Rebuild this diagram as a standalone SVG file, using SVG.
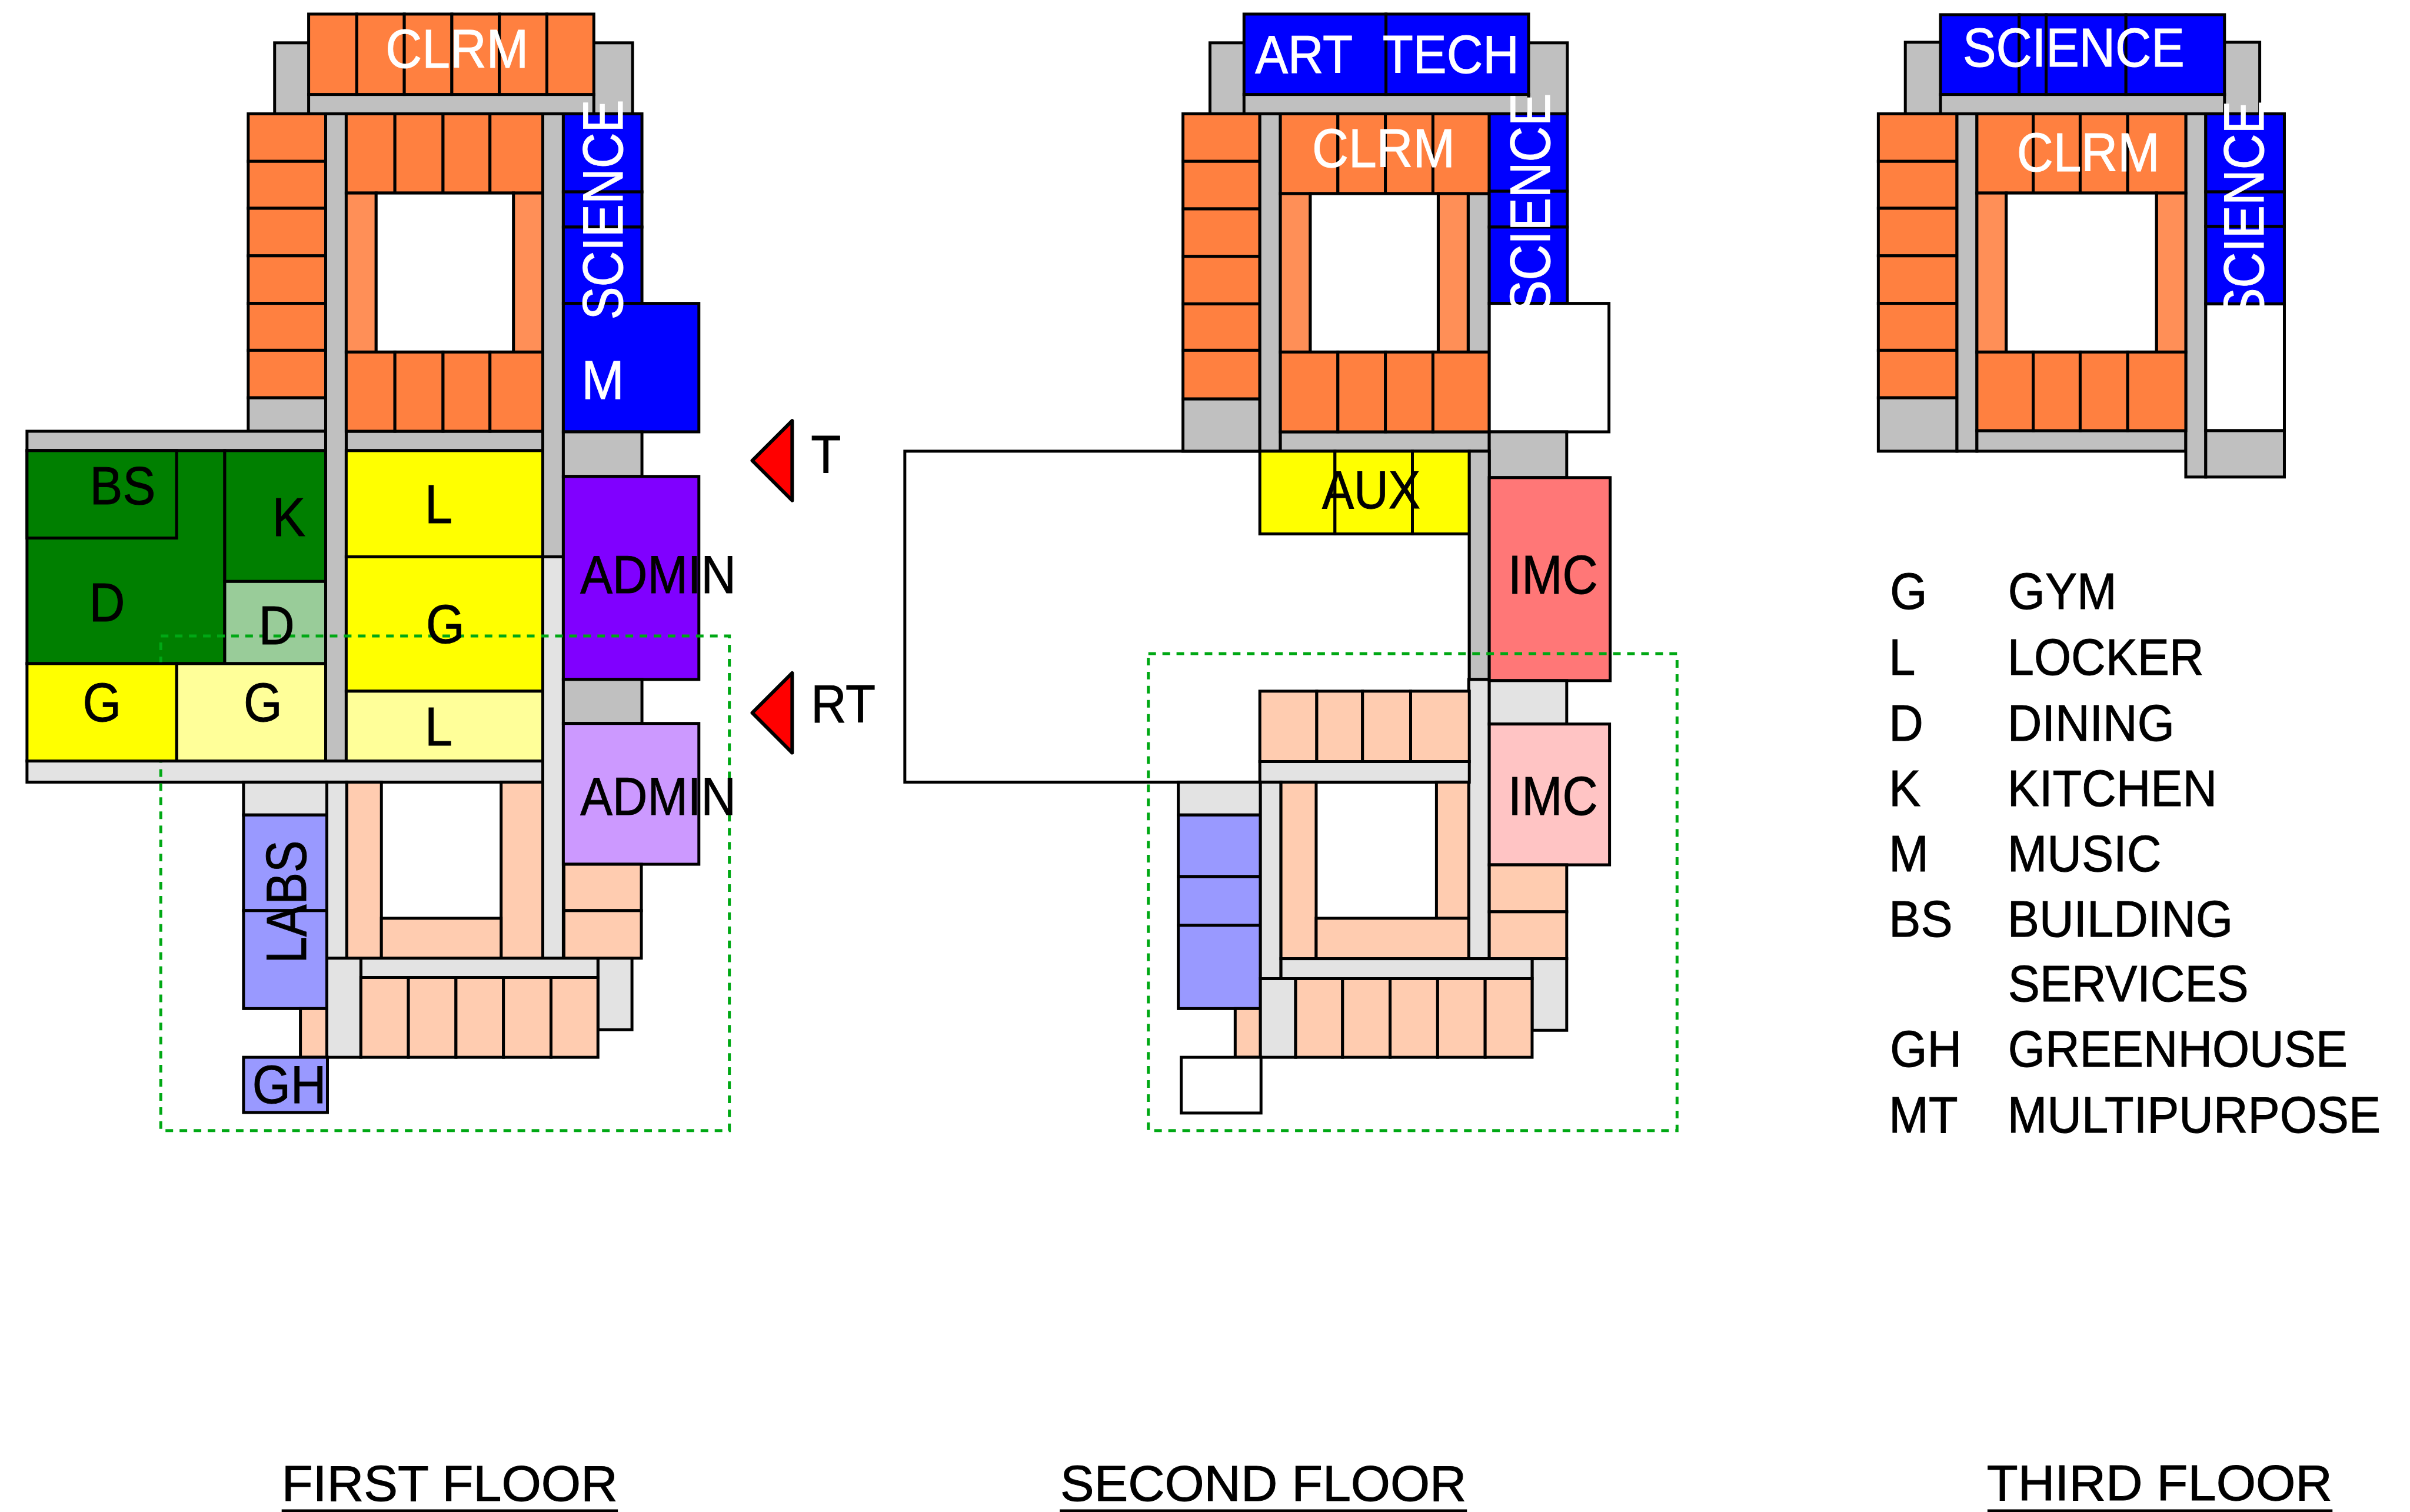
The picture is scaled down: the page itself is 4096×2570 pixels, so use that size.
<svg xmlns="http://www.w3.org/2000/svg" width="4096" height="2570" viewBox="0 0 4096 2570">
<style>
rect,polygon{stroke:#000;stroke-width:5;stroke-linejoin:miter}
.o{fill:#ff8040}.o2{fill:#ff8f57}.g{fill:#c0c0c0}.l{fill:#e3e3e3}.p{fill:#ffccb0}.w{fill:#fff}
.dg{fill:#007f00}.lg{fill:#99cc99}.y{fill:#ff0}.py{fill:#ff9}.b{fill:#00f}.v{fill:#8000ff}.pv{fill:#c9f}.i{fill:#ff7777}.pi{fill:#ffc4c4}.lab{fill:#99f}
.d{fill:none;stroke:#00a814;stroke-width:5;stroke-dasharray:13 11}
.u{stroke:#000;stroke-width:5}
.r{fill:#f00;stroke-width:6;stroke-linejoin:round}
text{font-family:"Liberation Sans",Arial,sans-serif;font-size:92px;fill:#000;stroke:#000;stroke-width:1}
.t{fill:#fff;stroke:#fff}.rot{font-size:97px}.leg{font-size:88px}.cap{font-size:86px}
</style>
<g transform="scale(0.9973)">
<g id="first-floor">
<rect class="g" x="468" y="73" width="60" height="121"/><rect class="g" x="1010" y="73" width="68" height="121"/>
<rect class="g" x="526" y="161" width="486" height="33"/>
<rect class="o" x="526" y="24" width="82" height="137"/><rect class="o" x="608" y="24" width="81" height="137"/><rect class="o" x="689" y="24" width="81" height="137"/><rect class="o" x="770" y="24" width="81" height="137"/><rect class="o" x="851" y="24" width="81" height="137"/><rect class="o" x="932" y="24" width="80" height="137"/>
<rect class="o" x="423" y="194" width="132" height="81"/><rect class="o" x="423" y="275" width="132" height="80"/><rect class="o" x="423" y="355" width="132" height="81"/><rect class="o" x="423" y="436" width="132" height="81"/><rect class="o" x="423" y="517" width="132" height="80"/><rect class="o" x="423" y="597" width="132" height="81"/>
<rect class="g" x="423" y="678" width="132" height="57"/>
<rect class="g" x="46" y="735" width="509" height="33"/><rect class="g" x="590" y="735" width="335" height="33"/>
<rect class="g" x="555" y="194" width="35" height="1103"/>
<rect class="g" x="925" y="194" width="35" height="755"/>
<rect class="l" x="925" y="949" width="35" height="684"/>
<rect class="o" x="590" y="194" width="83" height="135"/><rect class="o" x="673" y="194" width="82" height="135"/><rect class="o" x="755" y="194" width="80" height="135"/><rect class="o" x="835" y="194" width="90" height="135"/>
<rect class="o2" x="590" y="329" width="51" height="271"/><rect class="o2" x="875" y="329" width="50" height="271"/>
<rect class="w" x="641" y="329" width="234" height="271"/>
<rect class="o" x="590" y="600" width="83" height="135"/><rect class="o" x="673" y="600" width="82" height="135"/><rect class="o" x="755" y="600" width="80" height="135"/><rect class="o" x="835" y="600" width="90" height="135"/>
<rect class="b" x="960" y="194" width="134" height="133"/><rect class="b" x="960" y="327" width="134" height="60"/><rect class="b" x="960" y="387" width="134" height="130"/>
<rect class="b" x="960" y="517" width="231" height="219"/>
<rect class="g" x="960" y="736" width="134" height="76"/>
<rect class="v" x="960" y="812" width="231" height="346"/>
<rect class="g" x="960" y="1158" width="134" height="75"/>
<rect class="pv" x="960" y="1233" width="231" height="240"/>
<rect class="dg" x="46" y="768" width="337" height="363"/><rect class="dg" x="46" y="768" width="255" height="149"/>
<rect class="dg" x="383" y="768" width="172" height="223"/><rect class="lg" x="383" y="991" width="172" height="140"/>
<rect class="py" x="301" y="1131" width="254" height="166"/>
<rect class="y" x="590" y="768" width="335" height="181"/><rect class="y" x="590" y="949" width="335" height="229"/><rect class="py" x="590" y="1178" width="335" height="119"/>
<rect class="l" x="46" y="1297" width="879" height="36"/>
<rect class="l" x="415" y="1333" width="142" height="56"/>
<rect class="lab" x="415" y="1389" width="142" height="163"/><rect class="lab" x="415" y="1552" width="142" height="167"/>
<rect class="l" x="557" y="1333" width="34" height="300"/>
<rect class="p" x="591" y="1333" width="59" height="300"/><rect class="p" x="854" y="1333" width="71" height="300"/>
<rect class="p" x="650" y="1565" width="204" height="68"/>
<rect class="p" x="961" y="1473" width="132" height="79"/><rect class="p" x="961" y="1552" width="132" height="81"/>
<rect class="l" x="1019" y="1633" width="58" height="122"/>
<rect class="l" x="615" y="1633" width="404" height="33"/>
<rect class="p" x="512" y="1719" width="45" height="83"/>
<rect class="l" x="557" y="1633" width="58" height="169"/>
<rect class="p" x="615" y="1666" width="81" height="136"/><rect class="p" x="696" y="1666" width="81" height="136"/><rect class="p" x="777" y="1666" width="81" height="136"/><rect class="p" x="858" y="1666" width="81" height="136"/><rect class="p" x="939" y="1666" width="80" height="136"/>
<rect class="lab" x="415" y="1802" width="143" height="94"/>
<rect class="d" x="274" y="1084" width="969" height="843"/>
<rect class="y" x="46" y="1131" width="255" height="166"/>
<text class="t" transform="translate(657,115) scale(.935,1)">CLRM</text>
<text class="t rot" transform="translate(1061,545) rotate(-90) scale(.87,1)">SCIENCE</text>
<text class="t" transform="translate(991,680) scale(.95,1)">M</text>
<text transform="translate(153,859) scale(.913,1)">BS</text>
<text transform="translate(464,913) scale(.92,1)">K</text>
<text transform="translate(152,1059) scale(.92,1)">D</text>
<text transform="translate(441,1098) scale(.92,1)">D</text>
<text transform="translate(724,891) scale(.92,1)">L</text>
<text transform="translate(726,1096) scale(.92,1)">G</text>
<text transform="translate(141,1229) scale(.92,1)">G</text>
<text transform="translate(415,1229) scale(.92,1)">G</text>
<text transform="translate(724,1270) scale(.92,1)">L</text>
<text transform="translate(989,1011) scale(.895,1)">ADMIN</text>
<text transform="translate(989,1389) scale(.895,1)">ADMIN</text>
<text class="rot" transform="translate(521,1642) rotate(-90) scale(.845,1)">LABS</text>
<text transform="translate(430,1880) scale(.913,1)">GH</text>
</g>
<g id="section-markers">
<polygon class="r" points="1282,785 1350,717 1350,853"/>
<polygon class="r" points="1282,1215 1350,1147 1350,1283"/>
<text transform="translate(1382,806) scale(.91,1)">T</text>
<text transform="translate(1382,1231) scale(.91,1)">RT</text>
</g>
<g id="second-floor">
<rect class="w" x="1542" y="769" width="962" height="564"/>
<rect class="g" x="2062" y="73" width="60" height="121"/><rect class="g" x="2603" y="73" width="68" height="121"/>
<rect class="g" x="2120" y="161" width="485" height="33"/>
<rect class="b" x="2120" y="24" width="242" height="137"/><rect class="b" x="2362" y="24" width="243" height="137"/>
<rect class="o" x="2016" y="194" width="131" height="81"/><rect class="o" x="2016" y="275" width="131" height="81"/><rect class="o" x="2016" y="356" width="131" height="81"/><rect class="o" x="2016" y="437" width="131" height="81"/><rect class="o" x="2016" y="518" width="131" height="79"/><rect class="o" x="2016" y="597" width="131" height="83"/>
<rect class="g" x="2016" y="680" width="131" height="89"/>
<rect class="g" x="2147" y="194" width="35" height="575"/>
<rect class="g" x="2182" y="736" width="356" height="33"/>
<rect class="g" x="2502" y="330" width="36" height="270"/>
<rect class="o" x="2182" y="194" width="98" height="136"/><rect class="o" x="2280" y="194" width="81" height="136"/><rect class="o" x="2361" y="194" width="81" height="136"/><rect class="o" x="2442" y="194" width="96" height="136"/>
<rect class="o2" x="2182" y="330" width="51" height="270"/><rect class="o2" x="2451" y="330" width="51" height="270"/>
<rect class="w" x="2233" y="330" width="218" height="270"/>
<rect class="o" x="2182" y="600" width="98" height="136"/><rect class="o" x="2280" y="600" width="81" height="136"/><rect class="o" x="2361" y="600" width="81" height="136"/><rect class="o" x="2442" y="600" width="96" height="136"/>
<rect class="b" x="2538" y="194" width="133" height="132"/><rect class="b" x="2538" y="326" width="133" height="61"/><rect class="b" x="2538" y="387" width="133" height="130"/>
<rect class="w" x="2538" y="517" width="204" height="219"/>
<rect class="g" x="2538" y="736" width="132" height="78"/>
<rect class="y" x="2147" y="769" width="128" height="141"/><rect class="y" x="2275" y="769" width="132" height="141"/><rect class="y" x="2407" y="769" width="97" height="141"/>
<rect class="g" x="2504" y="769" width="34" height="389"/>
<rect class="l" x="2503" y="1158" width="35" height="476"/>
<rect class="i" x="2538" y="814" width="206" height="346"/>
<rect class="l" x="2538" y="1160" width="132" height="74"/>
<rect class="pi" x="2538" y="1234" width="205" height="240"/>
<rect class="p" x="2147" y="1178" width="97" height="120"/><rect class="p" x="2244" y="1178" width="78" height="120"/><rect class="p" x="2322" y="1178" width="82" height="120"/><rect class="p" x="2404" y="1178" width="100" height="120"/>
<rect class="l" x="2147" y="1298" width="357" height="35"/>
<rect class="l" x="2008" y="1333" width="140" height="56"/>
<rect class="lab" x="2008" y="1389" width="140" height="105"/><rect class="lab" x="2008" y="1494" width="140" height="83"/><rect class="lab" x="2008" y="1577" width="140" height="142"/>
<rect class="l" x="2148" y="1333" width="35" height="335"/>
<rect class="p" x="2183" y="1333" width="60" height="301"/>
<rect class="p" x="2448" y="1333" width="55" height="232"/>
<rect class="p" x="2243" y="1565" width="260" height="69"/>
<rect class="p" x="2538" y="1474" width="132" height="80"/><rect class="p" x="2538" y="1554" width="132" height="80"/>
<rect class="l" x="2611" y="1634" width="59" height="122"/>
<rect class="l" x="2183" y="1634" width="428" height="34"/>
<rect class="p" x="2105" y="1719" width="43" height="83"/>
<rect class="l" x="2148" y="1668" width="60" height="134"/>
<rect class="p" x="2208" y="1668" width="80" height="134"/><rect class="p" x="2288" y="1668" width="81" height="134"/><rect class="p" x="2369" y="1668" width="81" height="134"/><rect class="p" x="2450" y="1668" width="81" height="134"/><rect class="p" x="2531" y="1668" width="80" height="134"/>
<rect class="w" x="2013" y="1802" width="136" height="95"/>
<rect class="d" x="1957" y="1114" width="901" height="813"/>
<text class="t" transform="translate(2139,124) scale(.913,1)">ART</text>
<text class="t" transform="translate(2356,124) scale(.93,1)">TECH</text>
<text class="t" transform="translate(2236,285) scale(.935,1)">CLRM</text>
<text class="t rot" transform="translate(2641,534) rotate(-90) scale(.87,1)">SCIENCE</text>
<text transform="translate(2253,866) scale(.886,1)">AUX</text>
<text transform="translate(2570,1012) scale(.907,1)">IMC</text>
<text transform="translate(2570,1389) scale(.907,1)">IMC</text>
</g>
<g id="third-floor">
<rect class="g" x="3247" y="72" width="62" height="122"/><rect class="g" x="3789" y="72" width="62" height="122"/>
<rect class="g" x="3307" y="161" width="484" height="33"/>
<rect class="b" x="3307" y="25" width="134" height="136"/><rect class="b" x="3441" y="25" width="46" height="136"/><rect class="b" x="3487" y="25" width="136" height="136"/><rect class="b" x="3623" y="25" width="168" height="136"/>
<rect class="o" x="3201" y="194" width="134" height="81"/><rect class="o" x="3201" y="275" width="134" height="80"/><rect class="o" x="3201" y="355" width="134" height="81"/><rect class="o" x="3201" y="436" width="134" height="81"/><rect class="o" x="3201" y="517" width="134" height="80"/><rect class="o" x="3201" y="597" width="134" height="81"/>
<rect class="g" x="3201" y="678" width="134" height="91"/>
<rect class="g" x="3335" y="194" width="34" height="575"/>
<rect class="g" x="3369" y="734" width="356" height="35"/>
<rect class="g" x="3725" y="194" width="34" height="619"/>
<rect class="o" x="3369" y="194" width="96" height="135"/><rect class="o" x="3465" y="194" width="80" height="135"/><rect class="o" x="3545" y="194" width="81" height="135"/><rect class="o" x="3626" y="194" width="99" height="135"/>
<rect class="o2" x="3369" y="329" width="50" height="271"/><rect class="o2" x="3675" y="329" width="50" height="271"/>
<rect class="w" x="3419" y="329" width="256" height="271"/>
<rect class="o" x="3369" y="600" width="96" height="134"/><rect class="o" x="3465" y="600" width="80" height="134"/><rect class="o" x="3545" y="600" width="81" height="134"/><rect class="o" x="3626" y="600" width="99" height="134"/>
<rect class="b" x="3759" y="194" width="134" height="133"/><rect class="b" x="3759" y="327" width="134" height="59"/><rect class="b" x="3759" y="386" width="134" height="132"/>
<rect class="w" x="3759" y="518" width="134" height="216"/>
<rect class="g" x="3759" y="734" width="134" height="79"/>
<text class="t" transform="translate(3345,113) scale(.924,1)">SCIENCE</text>
<text class="t" transform="translate(3437,292) scale(.935,1)">CLRM</text>
<text class="t rot" transform="translate(3857,547) rotate(-90) scale(.87,1)">SCIENCE</text>
</g>
<g id="legend">
<text class="leg" transform="translate(3221,1038) scale(.925,1)">G</text><text class="leg" transform="translate(3422,1038) scale(.925,1)">GYM</text>
<text class="leg" transform="translate(3219,1150) scale(.925,1)">L</text><text class="leg" transform="translate(3421,1150) scale(.925,1)">LOCKER</text>
<text class="leg" transform="translate(3219,1262) scale(.925,1)">D</text><text class="leg" transform="translate(3421,1262) scale(.925,1)">DINING</text>
<text class="leg" transform="translate(3219,1374) scale(.925,1)">K</text><text class="leg" transform="translate(3421,1374) scale(.925,1)">KITCHEN</text>
<text class="leg" transform="translate(3219,1485) scale(.925,1)">M</text><text class="leg" transform="translate(3421,1485) scale(.925,1)">MUSIC</text>
<text class="leg" transform="translate(3219,1596) scale(.925,1)">BS</text><text class="leg" transform="translate(3421,1596) scale(.925,1)">BUILDING</text>
<text class="leg" transform="translate(3422,1707) scale(.925,1)">SERVICES</text>
<text class="leg" transform="translate(3221,1818) scale(.925,1)">GH</text><text class="leg" transform="translate(3422,1818) scale(.925,1)">GREENHOUSE</text>
<text class="leg" transform="translate(3219,1930) scale(.925,1)">MT</text><text class="leg" transform="translate(3421,1930) scale(.925,1)">MULTIPURPOSE</text>
</g>
<g id="floor-titles">
<text class="cap" transform="translate(480,2558) scale(1.01,1)">FIRST FLOOR</text><path class="u" d="M480 2575H1053"/>
<text class="cap" transform="translate(1807,2558) scale(1.006,1)">SECOND FLOOR</text><path class="u" d="M1806 2575H2500"/>
<text class="cap" transform="translate(3386,2557) scale(1.01,1)">THIRD FLOOR</text><path class="u" d="M3387 2575H3975"/>
</g>
</g>
</svg>
